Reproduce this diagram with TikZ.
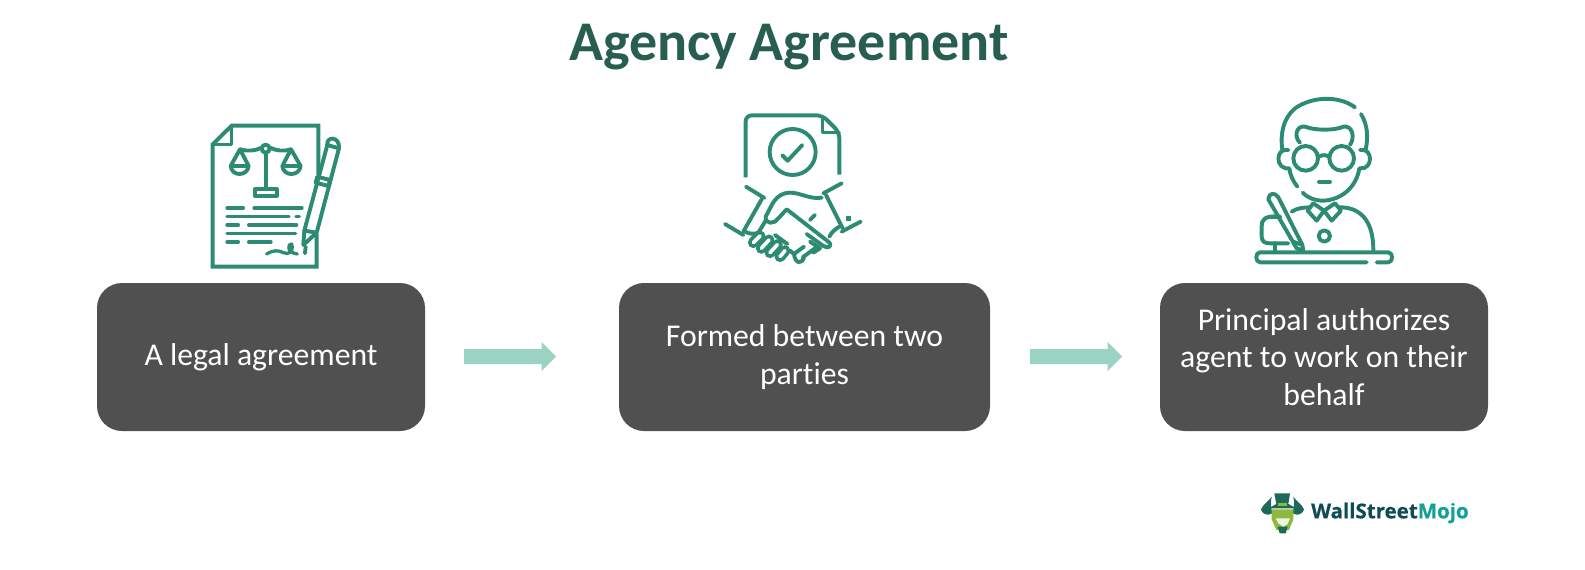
\documentclass[tikz,border=0pt]{standalone}
\usepackage{fontspec}
\setmainfont{Carlito}[RawFeature={-liga;-clig}]
\newfontfamily\logofont{Open Sans}[FakeBold=0.5]
\definecolor{titlec}{HTML}{285E50}
\definecolor{iconc}{HTML}{2E8B73}
\definecolor{boxc}{HTML}{505050}
\definecolor{arrowc}{HTML}{9BD3C3}
\definecolor{logod}{HTML}{0F4C55}
\definecolor{logot}{HTML}{12A19A}
\definecolor{logog}{HTML}{8DB93C}
\definecolor{logoh}{HTML}{1E6A5A}
\tikzset{
 flow/.style={fill=boxc,rounded corners=25pt,text=white,align=center,font=\fontsize{31.7}{37.5}\selectfont,inner sep=0pt,minimum height=148pt},
 ic/.style={draw=iconc,line width=3.9pt,line cap=round,line join=round},
 icthin/.style={draw=iconc,line width=3.3pt,line cap=round,line join=round},
 zoomed/.style={x=0.3333pt,y=-0.3333pt}
}
\begin{document}
\begin{tikzpicture}[x=1pt,y=-1pt]
\useasboundingbox[fill=white] (0,0) rectangle (1585,570);
\node[text=titlec,font=\bfseries\fontsize{56}{60}\selectfont,anchor=center] (title) at (789,47) {Agency Agreement};
\node[flow,minimum width=328pt] (b1) at (261,357) {A legal agreement};
\node[flow,minimum width=371pt] (b2) at (804.5,357) {Formed between two\\parties};
\node[flow,minimum width=328pt] (b3) at (1324,357) {Principal authorizes\\agent to work on their\\behalf};
% arrows
\fill[arrowc] (464,349) -- (541.7,349) -- (541.7,342) -- (556,356.5) -- (541.7,371) -- (541.7,364) -- (464,364) -- cycle;
\fill[arrowc] (1030,349) -- (1107.7,349) -- (1107.7,342) -- (1122,356.5) -- (1107.7,371) -- (1107.7,364) -- (1030,364) -- cycle;
% icon 1
\begin{scope}[shift={(190pt,-110pt)},zoomed]
\draw[ic,line cap=butt,line join=miter] (385,195) -- (385,47) -- (125,47) -- (68,103) -- (68,470) -- (380,470) -- (380,372);
\draw[icthin] (125,47) -- (125,103) -- (68,103);
\draw[ic] (150,118) .. controls (175,125) and (195,122) .. (212,114);
\draw[ic] (242,114) .. controls (260,122) and (280,125) .. (303,118);
\draw[ic] (227,116) circle (12);
\draw[ic] (227,130) -- (227,235);
\draw[ic] (195,238) -- (260,238) -- (260,257) -- (195,257) -- cycle;
\draw[ic] (150,118) -- (122,168) .. controls (125,200) and (172,200) .. (176,168) -- cycle;
\draw[ic] (303,118) -- (277,168) .. controls (280,200) and (328,200) .. (332,168) -- cycle;
\draw[icthin] (125,168) -- (174,168);
\draw[icthin] (280,168) -- (330,168);
\foreach \xa/\xb/\yy in {111/160/294,192/336/294,111/297/319,318/328/319,111/145/345,176/320/345,111/317/371,111/145/396,176/243/396}
  \draw[icthin] (\xa,\yy) -- (\xb,\yy);
\draw[icthin] (230,432) .. controls (250,420) and (265,420) .. (280,428) .. controls (295,436) and (312,425) .. (305,402) .. controls (292,400) and (290,428) .. (322,432);
% pen
\draw[ic,line cap=butt] (343,362) -- (412,105) -- (447,115) -- (380,368) -- cycle;
\draw[ic] (412,105) .. controls (408,78) and (450,78) .. (447,115);
\draw[ic] (382,200) -- (420,210) -- (415,228) -- (377,218) -- cycle;
\draw[ic] (343,362) -- (340,405) -- (380,368);
\draw[ic] (347,410) -- (345,430);
\end{scope}
% icon 2
\begin{scope}[shift={(700pt,-100pt)},zoomed]
\draw[ic,line cap=butt,rounded corners=6pt] (137,232) -- (137,46) -- (367,46) -- (418,97) -- (418,224);
\draw[icthin] (367,50) -- (367,97) -- (418,97);
\draw[ic] (278,156) circle (69);
\draw[ic] (247,166) -- (263,182) -- (307,135);
\draw[ic] (138,260) -- (193,294);
\draw[ic] (75,372) -- (130,405);
\draw[ic] (185,298) -- (130,395);
\draw[ic] (425,250) -- (370,280);
\draw[ic] (482,365) -- (425,395);
\draw[ic] (378,285) -- (428,385);
\fill[iconc] (438,349) rectangle (453,362);
% upper hand
\draw[ic] (365,293) .. controls (325,300) and (290,270) .. (255,280) .. controls (235,285) and (225,300) .. (218,310) -- (197,350) .. controls (195,375) and (225,372) .. (235,355) -- (260,328) -- (385,425) .. controls (400,438) and (385,448) .. (370,438) -- (320,402);
\draw[ic] (330,360) -- (345,345);
\draw[ic] (418,380) .. controls (410,385) and (395,395) .. (388,410);
% lower hand
\draw[ic] (135,395) .. controls (145,400) and (160,405) .. (175,398) -- (197,362);
\foreach \xa/\ya/\xb/\yb in {180/408/160/428,207/420/184/445,232/434/210/458,255/452/240/470}{
 \draw[iconc,line cap=round,line width=11pt] (\xa,\ya) -- (\xb,\yb);
 \draw[white,line cap=round,line width=3.6pt] (\xa,\ya) -- (\xb,\yb);
}
\draw[ic] (225,405) -- (262,432);
\draw[ic] (270,452) -- (282,462) .. controls (285,490) and (305,495) .. (312,472);
\draw[ic] (282,462) -- (312,440);
\draw[ic] (308,472) -- (345,445);
\draw[ic] (330,425) -- (360,445) -- (340,458);
\end{scope}
% icon 3
\begin{scope}[shift={(1225pt,-90pt)},zoomed]
\draw[ic] (390,52) .. controls (340,15) and (260,20) .. (210,55) .. controls (175,85) and (165,130) .. (172,180);
\draw[ic] (408,72) .. controls (428,105) and (430,140) .. (422,180);
\draw[ic] (225,158) .. controls (205,140) and (215,105) .. (240,110) .. controls (270,122) and (330,122) .. (355,110) .. controls (380,105) and (392,140) .. (375,165);
\draw[ic] (242,205) circle (37);
\draw[ic] (350,205) circle (37);
\draw[ic] (280,200) .. controls (295,194) and (300,194) .. (313,200);
\draw[ic] (190,180) .. controls (150,172) and (150,240) .. (192,235);
\draw[ic] (405,180) .. controls (445,172) and (445,240) .. (405,235);
\draw[ic] (193,235) .. controls (195,255) and (205,275) .. (217,290);
\draw[ic] (403,235) .. controls (395,290) and (350,330) .. (295,332) .. controls (270,332) and (250,325) .. (233,308);
\draw[ic] (282,275) -- (315,275);
\draw[ic] (200,365) .. controls (215,355) and (235,352) .. (255,352);
\draw[ic] (340,352) .. controls (400,350) and (445,385) .. (445,480);
\draw[ic] (265,340) -- (248,362) -- (275,392) -- (297,362) -- (320,392) -- (348,362) -- (330,340);
\draw[ic] (265,340) -- (297,362) -- (330,340);
\draw[ic] (298,438) circle (17);
\draw[ic] (130,328) .. controls (130,310) and (150,305) .. (160,322) -- (232,465) -- (235,482) -- (215,475) -- cycle;
\draw[ic] (205,455) -- (232,465);
\draw[ic] (140,380) -- (165,380);
\draw[ic] (165,380) .. controls (120,375) and (108,390) .. (110,410) -- (110,440) .. controls (110,455) and (120,460) .. (135,460) -- (190,460);
\draw[ic] (150,460) -- (150,485);
\draw[ic] (425,517) -- (105,517) .. controls (90,517) and (90,487) .. (105,487) -- (490,487) .. controls (505,487) and (505,517) .. (490,517) -- (455,517);
\end{scope}
% logo
\begin{scope}[shift={(1235pt,-480pt)},zoomed]
\fill[logoh] (118,40) -- (165,40) -- (160,72) -- (185,85) -- (100,85) -- (124,72) -- cycle;
\fill[logog] (128,70) rectangle (156,78);
\fill[logoh] (78,88) .. controls (85,72) and (100,65) .. (110,50) .. controls (105,75) and (110,90) .. (112,100) -- (100,104) .. controls (90,104) and (80,98) .. (78,88) -- cycle;
\fill[logoh] (207,88) .. controls (200,72) and (185,65) .. (175,50) .. controls (180,75) and (175,90) .. (172,100) -- (185,104) .. controls (195,104) and (205,98) .. (207,88) -- cycle;
\fill[logog] (110,88) -- (175,88) -- (175,118) -- (162,150) -- (124,150) -- (110,118) -- cycle;
\fill[logoh] (128,140) -- (158,140) -- (152,160) -- (134,160) -- cycle;
\fill[white!85!logog] (122,115) -- (165,115) -- (158,132) -- (145,140) -- (130,130) -- cycle;
\end{scope}
\node[anchor=west,inner sep=0pt,font=\logofont\bfseries\fontsize{20.5}{24}\selectfont] (logo) at (1311,513) {\textcolor{logod}{WallStreet}\textcolor{logot}{Mojo}};
\end{tikzpicture}
\end{document}
